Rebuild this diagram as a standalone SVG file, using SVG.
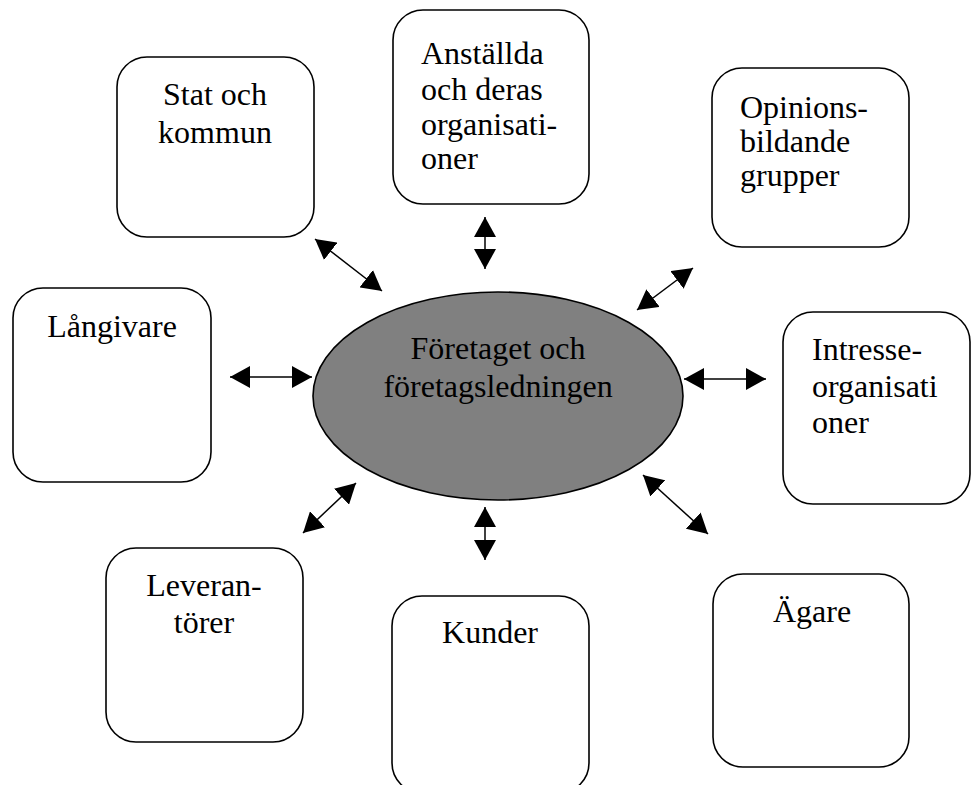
<svg xmlns="http://www.w3.org/2000/svg" width="972" height="785" viewBox="0 0 972 785">
<style>
.box{fill:#fff;stroke:#000;stroke-width:1.6}
.t{font-family:"Liberation Serif","Times New Roman",serif;font-size:32px;fill:#000}
.c{text-anchor:middle}
.conn{stroke:#000;stroke-width:1.5;fill:none;marker-start:url(#ah);marker-end:url(#ah)}
</style>
<defs>
<marker id="ah" viewBox="0 0 20 22" refX="20" refY="11" markerWidth="20" markerHeight="22" markerUnits="userSpaceOnUse" orient="auto-start-reverse">
<path d="M0,0 L20,11 L0,22 z" fill="#000"/>
</marker>
</defs>
<rect width="972" height="785" fill="#fff"/>
<g id="connectors">
<line class="conn" x1="315" y1="239" x2="382" y2="291"/>
<line class="conn" x1="485" y1="217" x2="485" y2="269"/>
<line class="conn" x1="637" y1="310" x2="693" y2="268"/>
<line class="conn" x1="230" y1="377" x2="312" y2="377"/>
<line class="conn" x1="684" y1="379" x2="766" y2="379"/>
<line class="conn" x1="303" y1="533" x2="356" y2="483"/>
<line class="conn" x1="485" y1="507" x2="485" y2="560"/>
<line class="conn" x1="643" y1="475" x2="708" y2="534"/>
</g>
<g id="center">
<ellipse cx="498" cy="396" rx="185" ry="104" fill="#808080" stroke="#000" stroke-width="1.6"/>
<text class="t c" x="498" y="359">Företaget och</text>
<text class="t c" x="498" y="397">företagsledningen</text>
</g>
<g id="stat">
<rect class="box" x="117" y="57" width="197" height="180" rx="30"/>
<text class="t c" x="215" y="105">Stat och</text>
<text class="t c" x="215" y="143">kommun</text>
</g>
<g id="anstallda">
<rect class="box" x="393" y="10" width="196" height="194" rx="30"/>
<text class="t" x="421" y="64">Anställda</text>
<text class="t" x="421" y="100">och deras</text>
<text class="t" x="421" y="135">organisati-</text>
<text class="t" x="421" y="169">oner</text>
</g>
<g id="opinion">
<rect class="box" x="712" y="68" width="197" height="179" rx="30"/>
<text class="t" x="740" y="118">Opinions-</text>
<text class="t" x="740" y="152">bildande</text>
<text class="t" x="740" y="186">grupper</text>
</g>
<g id="langivare">
<rect class="box" x="13" y="288" width="198" height="194" rx="30"/>
<text class="t c" x="112" y="337">Långivare</text>
</g>
<g id="intresse">
<rect class="box" x="783" y="312" width="187" height="192" rx="30"/>
<text class="t" x="812" y="360">Intresse-</text>
<text class="t" x="812" y="397">organisati</text>
<text class="t" x="812" y="433">oner</text>
</g>
<g id="leverantorer">
<rect class="box" x="106" y="548" width="197" height="194" rx="30"/>
<text class="t c" x="204" y="596">Leveran-</text>
<text class="t c" x="204" y="633">törer</text>
</g>
<g id="kunder">
<rect class="box" x="392" y="596" width="197" height="197" rx="30"/>
<text class="t c" x="490" y="643">Kunder</text>
</g>
<g id="agare">
<rect class="box" x="713" y="574" width="196" height="193" rx="30"/>
<text class="t c" x="812" y="622">Ägare</text>
</g>
</svg>
